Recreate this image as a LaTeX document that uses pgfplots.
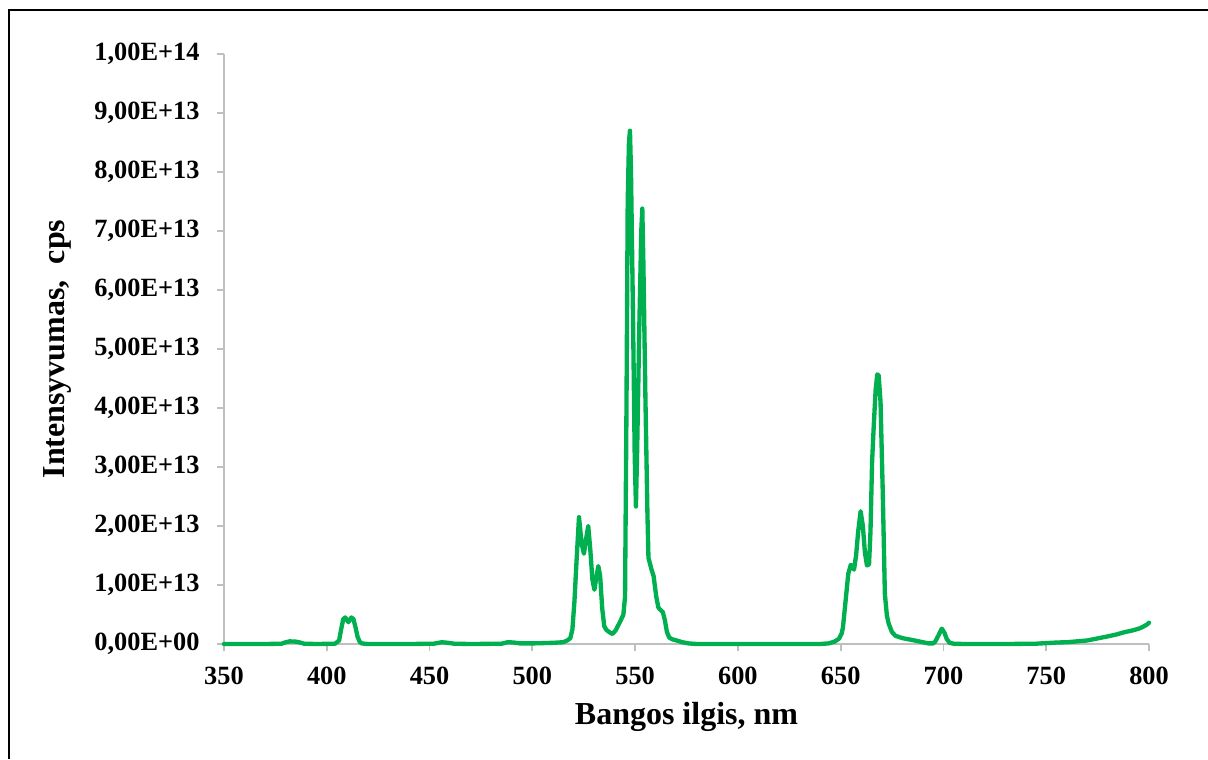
\documentclass[border=0pt]{standalone}
\usepackage{fontspec}
\setmainfont{Liberation Serif}
\usepackage{pgfplots}
\pgfplotsset{compat=1.18}
\usepackage{pgfplotstable}

\definecolor{specgreen}{RGB}{0,176,80}
\definecolor{axisgray}{RGB}{191,191,191}

% Emission spectrum: wavelength (nm) vs intensity (units of 1e12 cps)
\pgfplotstableread{
nm I
350 0
360 0
370 0
378 0.05
380 0.3
382 0.45
385 0.4
387 0.25
389 0.05
395 0
404 0.05
406 0.6
407 2.5
408 4.2
409 4.5
410.5 3.7
412 4.5
413 4.2
414 2.8
415 1.2
416 0.4
417 0.1
420 0
440 0
452 0.05
456 0.3
459 0.2
462 0.05
470 0
485 0.05
488 0.3
491 0.25
494 0.1
500 0.1
510 0.2
515 0.3
517 0.6
518.5 1
519.5 2.5
520.5 7.3
521.5 14
522.7 21.5
524 17
525.1 15.3
526 17.5
527.2 20
528.2 16
529.2 11
530.2 9.2
531 11
532.1 13.2
533 11.5
534 6
535 3
536 2.4
537.5 2.0
539 1.7
540.5 2.3
542 3.3
543 4
544.3 5
545.1 8
545.8 40
546.4 75
547 85
547.5 87
548 80
549 55
549.8 32
550.4 23.3
551 33
552 53
553 70
553.5 73.8
554 65
555 42
556 22
556.5 14.6
558 12.6
559 11.5
560.3 8
561.3 6.2
562 5.9
563.5 5.4
564.5 4
565.5 2
566.6 1.1
568 0.8
570.2 0.6
573 0.3
576 0.1
580 0
600 0
620 0
640 0
644 0.1
647 0.4
649.2 0.9
650.5 1.8
651.1 2.8
652.4 7.3
653.7 11.9
654.9 13.4
655.8 13.2
656.5 12.6
657.5 15
658.5 19
659.7 22.5
660.8 20
661.8 15.5
662.8 13.3
663.8 13.5
664.5 19
665.3 31
666.1 37
667 43
667.8 45.7
668.5 45.5
669.4 41
670.5 25.4
671.5 8.5
672.5 4.8
673.4 3.4
675 2
676.6 1.4
680 1.0
683 0.8
688 0.45
692.7 0.1
695 0.1
696 0.4
697.5 1.4
699.2 2.6
700.5 1.9
701.6 0.85
703 0.2
705 0.05
710 0
730 0
745 0.05
750 0.15
755 0.25
760 0.3
765 0.45
770 0.6
775 0.95
780 1.3
784 1.6
788 2.0
792 2.3
795 2.6
797 2.9
799 3.3
800 3.6
}\spectrum

\begin{document}
\begin{tikzpicture}
% page area and outer frame (left and top edges only are visible)
\useasboundingbox (-134.4pt,-69pt) rectangle (590.4pt,386.4pt);
\draw[black, line width=1.5pt] (-129pt,-69pt) -- (-129pt,380.4pt) -- (590.4pt,380.4pt);
\begin{axis}[
  at={(0,0)}, anchor=south west,
  scale only axis,
  width=555pt, height=354pt,
  xmin=350, xmax=800,
  ymin=0, ymax=100,
  axis lines*=left,
  axis line style={axisgray, line width=1pt},
  every tick/.style={axisgray, line width=1pt},
  tick align=outside,
  major tick length=4.2pt,
  xtick={350,400,...,800},
  xticklabels={350,400,450,500,550,600,650,700,750,800},
  ytick={0,10,...,100},
  yticklabels={{0,00E+00},{1,00E+13},{2,00E+13},{3,00E+13},{4,00E+13},{5,00E+13},{6,00E+13},{7,00E+13},{8,00E+13},{9,00E+13},{1,00E+14}},
  tick label style={font=\fontsize{15.8}{18}\selectfont\bfseries, black},
  yticklabel style={xshift=-7pt},
  xticklabel style={yshift=-6pt},
  label style={font=\fontsize{19.2}{22}\selectfont\bfseries, black},
  xlabel={Bangos ilgis, nm},
  ylabel={Intensyvumas,\ \ cps},
  xlabel style={at={(axis description cs:0.5,-0.1237)}, anchor=center},
  ylabel style={at={(axis description cs:-0.1805,0.5)}, anchor=center},
  clip=false,
]
\addplot[specgreen, line width=2.6pt, line join=round, line cap=round] table[x=nm, y=I] {\spectrum};
\end{axis}
\end{tikzpicture}
\end{document}
